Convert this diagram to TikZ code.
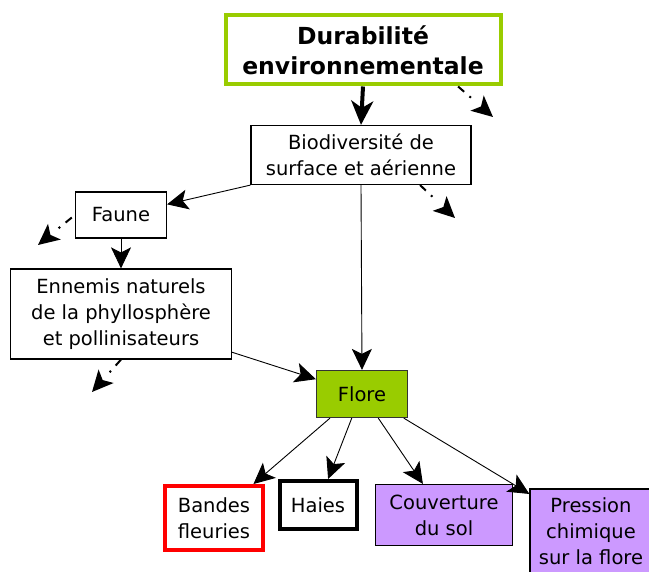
\documentclass[tikz,border=0pt]{standalone}
\usepackage{fontspec}
\setmainfont{DejaVu Sans}
\usetikzlibrary{arrows.meta}
\definecolor{vert}{HTML}{99CC00}
\definecolor{mauve}{HTML}{CC99FF}
\tikzset{
  fleche/.style={-{Stealth[length=21pt,width=20pt,inset=5pt]},line width=0.9pt},
  tiret/.style={-{Stealth[length=21pt,width=20pt,inset=5pt]},line width=2pt,
    dash pattern=on 8pt off 7pt on 2pt off 40pt}
}
\begin{document}
\begin{tikzpicture}[x=1pt,y=-1pt]
      \useasboundingbox (0,0) rectangle (649,572);
      \clip (0,0) rectangle (649,572);

      \begin{scope}[every node/.style={draw,line width=1.2pt,align=center,inner sep=0pt,
          font=\fontsize{19.5}{26}\selectfont}]
        \node[draw=vert,line width=4pt,minimum width=275,minimum height=69,
          font=\bfseries\fontsize{23.5}{30}\selectfont] (1) at (363,50) {Durabilité\\environnementale};
        \node[minimum width=220,minimum height=59] (2) at (361,155) {Biodiversité de\\surface et aérienne};
        \node[minimum width=91,minimum height=46] (3) at (121,215) {Faune};
        \node[minimum width=221,minimum height=90] (4) at (121,314) {Ennemis naturels\\de la phyllosphère\\et pollinisateurs};
        \node[fill=vert,draw=black!80,minimum width=91,minimum height=47] (5) at (362,394) {Flore};
        \node[draw=red,line width=4pt,minimum width=98,minimum height=64] (6) at (214,518) {Bandes\\fleuries};
        \node[line width=4pt,minimum width=77,minimum height=48] (7) at (318,505) {Haies};
        \node[fill=mauve,minimum width=137,minimum height=61] (8) at (444,515) {Couverture\\du sol};
        \node[fill=mauve,minimum width=122,minimum height=84] (9) at (591,531) {Pression\\chimique\\sur la flore};
      \end{scope}

      % bouts libres des fleches en tirets
      \coordinate (a) at (493,117);
      \coordinate (b) at (455,218);
      \coordinate (c) at (38,245);
      \coordinate (d) at (92,392);

      \begin{scope}[every edge/.style={draw}]
        \path (1.south) edge[-{Stealth[length=24pt,width=22pt,inset=7pt]},line width=4pt] (2.north);
        \path (2.south west) edge[fleche] (3);
        \path (2.south) edge[fleche] (5.north);
        \path (3) edge[fleche] (4);
        \path (4.-19) edge[fleche] (5);
        \path (5.-143) edge[fleche] (6);
        \path (5.-113) edge[fleche] (7);
        \path (5.-56) edge[fleche] (8);
        \path (5.-30) edge[fleche] (9);

        \path (1.-21) edge[tiret] (a);
        \path (2.-27) edge[tiret] (b);
        \path (3.west) edge[tiret,shorten <=4pt] (c);
        \path (4.south) edge[tiret] (d);
      \end{scope}

    \end{tikzpicture}
\end{document}
